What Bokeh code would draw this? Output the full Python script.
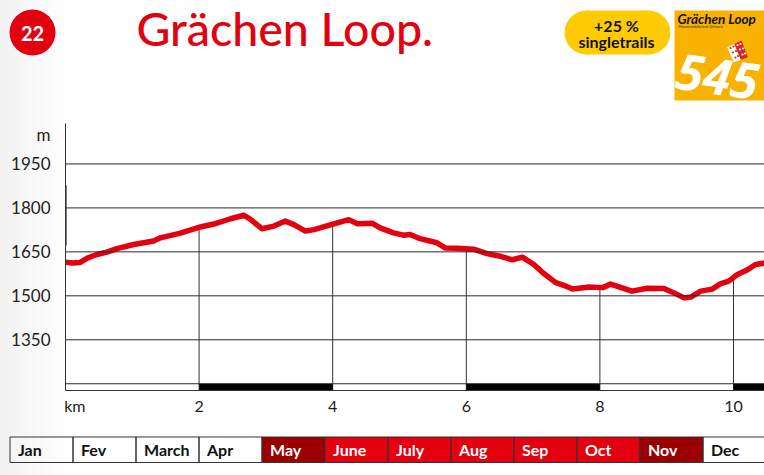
import numpy as np
from bokeh.embed import file_html
from bokeh.resources import INLINE
from bokeh.plotting import figure
from bokeh.layouts import column
from bokeh.models import Range1d, FixedTicker, LinearAxis, Span
from bokeh.core.properties import value

TITLE = "Grächen Loop."
BADGE = "22"
PILL = ["+25 %", "singletrails"]
LOGO = ["Grächen Loop", "Mountainbikeland Schweiz", "545"]
km = [0.00, 0.10, 0.22, 0.34, 0.47, 0.62, 0.77, 1.02, 1.32, 1.42, 1.72, 2.02, 2.22, 2.47, 2.67, 2.77, 2.94,
      3.12, 3.29, 3.42, 3.59, 3.72, 3.99, 4.24, 4.37, 4.59, 4.71, 4.91, 5.06, 5.16, 5.31, 5.56, 5.69, 5.86,
      6.11, 6.31, 6.49, 6.69, 6.84, 7.01, 7.16, 7.34, 7.46, 7.59, 7.84, 8.04, 8.16, 8.48, 8.71, 8.96, 9.11,
      9.26, 9.36, 9.51, 9.68, 9.81, 9.93, 10.06, 10.21, 10.33, 10.47]
elev = [1615, 1612, 1614, 1630, 1641, 1649, 1661, 1675, 1687, 1698, 1714, 1735, 1745, 1763, 1775, 1761, 1729,
        1738, 1755, 1743, 1721, 1726, 1744, 1760, 1746, 1748, 1732, 1715, 1707, 1709, 1695, 1681, 1663, 1662,
        1659, 1644, 1636, 1623, 1632, 1607, 1576, 1545, 1536, 1523, 1530, 1528, 1540, 1516, 1526, 1525, 1510,
        1493, 1496, 1516, 1523, 1542, 1550, 1573, 1589, 1607, 1612]
y_ticks = [1350, 1500, 1650, 1800, 1950]
y_unit_tick = 2062
y_unit = "m"
x_ticks = [2, 4, 6, 8, 10]
x_unit_tick = 0.14
x_unit = "km"
band_start = [2, 6, 10]
band_end = [4, 8, 10.47]
months = ["Jan", "Fev", "March", "Apr", "May", "June", "July", "Aug", "Sep", "Oct", "Nov", "Dec"]
month_level = [0, 0, 0, 0, 1, 2, 2, 2, 2, 2, 1, 0]

RED = "#e3000f"
DARK = "#9b0000"
INK = "#222222"
FONT = "Lato"


def base(h, **kw):
    return figure(width=764, height=h, output_backend="svg", toolbar_location=None, frame_align=False,
                  background_fill_alpha=0, border_fill_alpha=0, outline_line_color=None, **kw)


# header
head = base(123, x_range=Range1d(0, 764), y_range=Range1d(123, 0), x_axis_type=None, y_axis_type=None,
            min_border=0, min_border_left=0, min_border_right=0, min_border_top=0, min_border_bottom=0)
head.grid.visible = False
head.scatter([32], [32], size=46, marker="circle", fill_color=RED, line_color=None)
head.text([32], [32.5], text=[BADGE], text_color="white", text_font=value(FONT), text_font_style="bold",
          text_font_size="20px", text_align="center", text_baseline="middle")
head.text([136], [27.5], text=[TITLE], text_color=RED, text_font=value("Lato Medium"), text_font_size="46.5px",
          text_baseline="middle")
# pill
head.quad(left=[586], right=[648], top=[10], bottom=[54], fill_color="#ffcb05", line_color=None)
head.scatter([586, 648], [32, 32], size=44, marker="circle", fill_color="#ffcb05", line_color=None)
head.text([616, 616], [25, 41], text=PILL, text_color="#111111", text_font=value(FONT), text_font_style="bold",
          text_font_size="16px", text_align="center", text_baseline="middle")
# logo
head.quad(left=[674], right=[764], top=[10], bottom=[100], fill_color="#f9b200", line_color=None)
head.text([677], [18], text=[LOGO[0]], text_color="#111111", text_font=value(FONT),
          text_font_style="bold italic", text_font_size="13.5px", text_baseline="middle")
head.text([678], [26], text=[LOGO[1]], text_color="#333333", text_font=value(FONT),
          text_font_size="3.8px", text_baseline="middle")
head.text([717], [76], text=[LOGO[2]], text_color="white", text_font=value("Open Sans"),
          text_font_style="bold italic", text_font_size="50px", text_align="center", text_baseline="middle",
          angle=[-0.14])
head.patch([726.7, 733.9, 740.3, 733.3], [46.7, 43.4, 59.2, 61.7], fill_color="white", line_color=None)
head.patch([733.9, 741, 747.3, 740.3], [43.4, 40, 56.7, 59.2], fill_color="#d8232a", line_color=None)
head.scatter([730, 732.5, 735, 733, 735.5, 737.5], [47.5, 52, 57, 46, 50.5, 55.5], size=2.2, marker="circle",
             fill_color="#d8232a", line_color=None)
head.scatter([737, 739.5, 742, 740, 742.5, 744.5], [44.5, 49, 54, 43.5, 48, 53], size=2.2, marker="circle",
             fill_color="white", line_color=None)

# chart
p = base(305, x_range=Range1d(0, 10.464), y_range=Range1d(1177, 2088), x_axis_type=None, y_axis_type=None,
         min_border_left=65, min_border_right=0, min_border_top=0, min_border_bottom=38)
p.grid.visible = False

yax = LinearAxis(ticker=FixedTicker(ticks=y_ticks + [y_unit_tick]), major_label_overrides={y_unit_tick: y_unit},
                 major_tick_line_color=None, minor_tick_line_color=None, major_tick_in=0, major_tick_out=0,
                 minor_tick_in=0, minor_tick_out=0,
                 axis_line_color="#333333", axis_line_width=1, major_label_standoff=15,
                 major_label_text_font=FONT, major_label_text_font_size="17px", major_label_text_color=INK)
xax = LinearAxis(ticker=FixedTicker(ticks=[x_unit_tick] + x_ticks), major_label_overrides={x_unit_tick: x_unit},
                 major_tick_line_color=None, minor_tick_line_color=None, major_tick_in=0, major_tick_out=0,
                 minor_tick_in=0, minor_tick_out=0,
                 axis_line_color="#333333", axis_line_width=1, major_label_standoff=5,
                 major_label_text_font=FONT, major_label_text_font_size="16px", major_label_text_color=INK)
p.add_layout(yax, "left")
p.add_layout(xax, "below")
for t in y_ticks + [1200]:
    p.add_layout(Span(location=t, dimension="width", line_color="#2a2a2a", line_width=1))

post_top = np.interp(x_ticks, km, elev)
p.segment(x_ticks, [1177] * len(x_ticks), x_ticks, post_top, line_color="#333333", line_width=1)
p.segment([0], [1672], [0], [1877], line_color="black", line_width=2)
p.quad(left=band_start, right=band_end, bottom=[1177] * 3, top=[1200] * 3, fill_color="black", line_color=None)
p.line(km, elev, line_color=RED, line_width=5.5, line_join="round", line_cap="round")

# months
m = base(47, x_range=Range1d(-0.151, 11.976), y_range=Range1d(-0.51, 1.333), x_axis_type=None, y_axis_type=None,
         min_border=0, min_border_left=0, min_border_right=0, min_border_top=0, min_border_bottom=0)
m.grid.visible = False
idx = np.arange(len(months))
fills = [{0: "white", 1: DARK, 2: RED}[v] for v in month_level]
alphas = [0 if v == 0 else 1 for v in month_level]
m.quad(left=idx, right=idx + 1, bottom=[0] * 12, top=[1] * 12, fill_color=fills, fill_alpha=alphas,
       line_color="#333333", line_width=1)
m.text(idx + 0.127, [0.5] * 12, text=months, text_color=["#111111" if v == 0 else "white" for v in month_level],
       text_font=value(FONT), text_font_style="bold", text_font_size="16px", text_baseline="middle")

page = column(head, p, m, spacing=0,
              styles={"background": "linear-gradient(to right, #f2f2f2 0px, #ffffff 72px)"})
open("out.html", "w").write(file_html(page, INLINE))
